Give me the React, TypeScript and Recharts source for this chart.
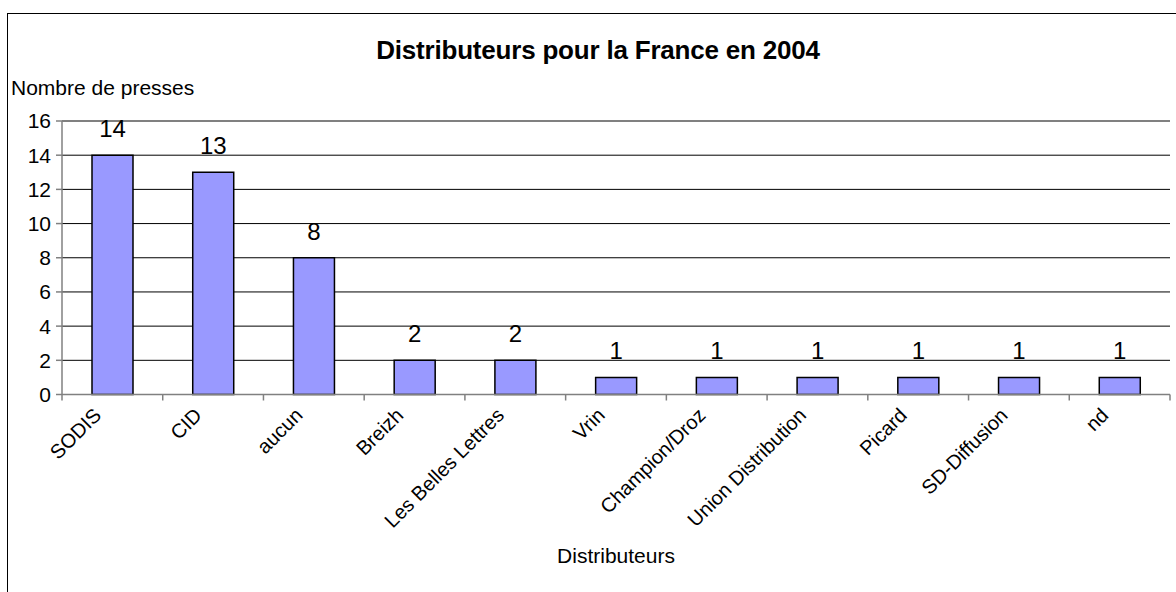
import React from "react"
import {
  BarChart,
  Bar,
  XAxis,
  YAxis,
  CartesianGrid,
  ReferenceLine,
  LabelList,
} from "recharts"

// Distributeurs et nombre de presses (France, 2004)
const distributeurs = [
  "SODIS",
  "CID",
  "aucun",
  "Breizh",
  "Les Belles Lettres",
  "Vrin",
  "Champion/Droz",
  "Union Distribution",
  "Picard",
  "SD-Diffusion",
  "nd",
]
const presses = [14, 13, 8, 2, 2, 1, 1, 1, 1, 1, 1]
const yTicks = [0, 2, 4, 6, 8, 10, 12, 14, 16]

const data = distributeurs.map((name, i) => ({ name, presses: presses[i] }))

const FONT = '"Liberation Sans", Arial, sans-serif'
const GRAY = "#808080"

// rotated label + tick marks on the category boundaries (Excel style)
function CategoryTick(props: any) {
  const { x, y, payload, index } = props
  const half = payload.offset ?? 50
  const isLast = index === distributeurs.length - 1
  const ax = x - 10
  const ay = y + 22
  return (
    <g>
      <line x1={x - half} y1={y} x2={x - half} y2={y + 6} stroke={GRAY} strokeWidth={1.5} />
      {isLast && (
        <line x1={x + half} y1={y} x2={x + half} y2={y + 6} stroke={GRAY} strokeWidth={1.5} />
      )}
      <text
        x={ax}
        y={ay}
        textAnchor="end"
        fontSize={20}
        fontFamily={FONT}
        fill="#000"
        transform={`rotate(-45, ${ax}, ${ay})`}
      >
        {payload.value}
      </text>
    </g>
  )
}

export default function App() {
  return (
    <div
      style={{
        position: "absolute",
        left: 0,
        top: 0,
        width: 1176,
        height: 592,
        overflow: "hidden",
        background: "#fff",
        fontFamily: FONT,
      }}
    >
      {/* chart frame, cut off on the right and bottom */}
      <div
        style={{
          position: "absolute",
          left: 7,
          top: 13,
          width: 1190,
          height: 600,
          border: "1.5px solid #000",
          boxSizing: "border-box",
        }}
      />
      <div
        style={{
          position: "absolute",
          left: 7,
          top: 35,
          width: 1182,
          textAlign: "center",
          fontSize: 26,
          fontWeight: "bold",
          lineHeight: "30px",
          letterSpacing: "-0.2px",
        }}
      >
        Distributeurs pour la France en 2004
      </div>
      <div
        style={{
          position: "absolute",
          left: 11,
          top: 75,
          fontSize: 21,
          lineHeight: "26px",
        }}
      >
        Nombre de presses
      </div>
      <div style={{ position: "absolute", left: 0, top: 0 }}>
        <BarChart
          width={1176}
          height={592}
          data={data}
          margin={{ top: 121, right: 6, left: 0, bottom: 27.5 }}
        >
          <CartesianGrid vertical={false} stroke="#000" strokeWidth={1} />
          <XAxis
            dataKey="name"
            interval={0}
            height={170}
            tickSize={0}
            tickMargin={0}
            tickLine={false}
            axisLine={{ stroke: GRAY, strokeWidth: 1.5 }}
            tick={<CategoryTick />}
            label={{
              value: "Distributeurs",
              position: "insideBottom",
              offset: 2,
              fontSize: 21,
              fontFamily: FONT,
              fill: "#000",
            }}
          />
          <YAxis
            width={62}
            domain={[0, 16]}
            ticks={yTicks}
            interval={0}
            tickSize={6}
            tickMargin={5}
            tick={{ fontSize: 21, fontFamily: FONT, fill: "#000" }}
            tickLine={{ stroke: GRAY, strokeWidth: 1.5 }}
            axisLine={{ stroke: GRAY, strokeWidth: 1.5 }}
          />
          <YAxis
            yAxisId="right"
            orientation="right"
            width={0}
            domain={[0, 16]}
            tick={false}
            tickLine={false}
            axisLine={{ stroke: GRAY, strokeWidth: 1.5 }}
          />
          <ReferenceLine y={16} stroke={GRAY} strokeWidth={1.5} />
          <Bar
            dataKey="presses"
            barSize={41}
            fill="#9999FF"
            stroke="#000"
            strokeWidth={1.5}
            isAnimationActive={false}
          >
            <LabelList
              dataKey="presses"
              position="top"
              offset={18}
              fontSize={24}
              fontFamily={FONT}
              fill="#000"
            />
          </Bar>
        </BarChart>
      </div>
    </div>
  )
}
